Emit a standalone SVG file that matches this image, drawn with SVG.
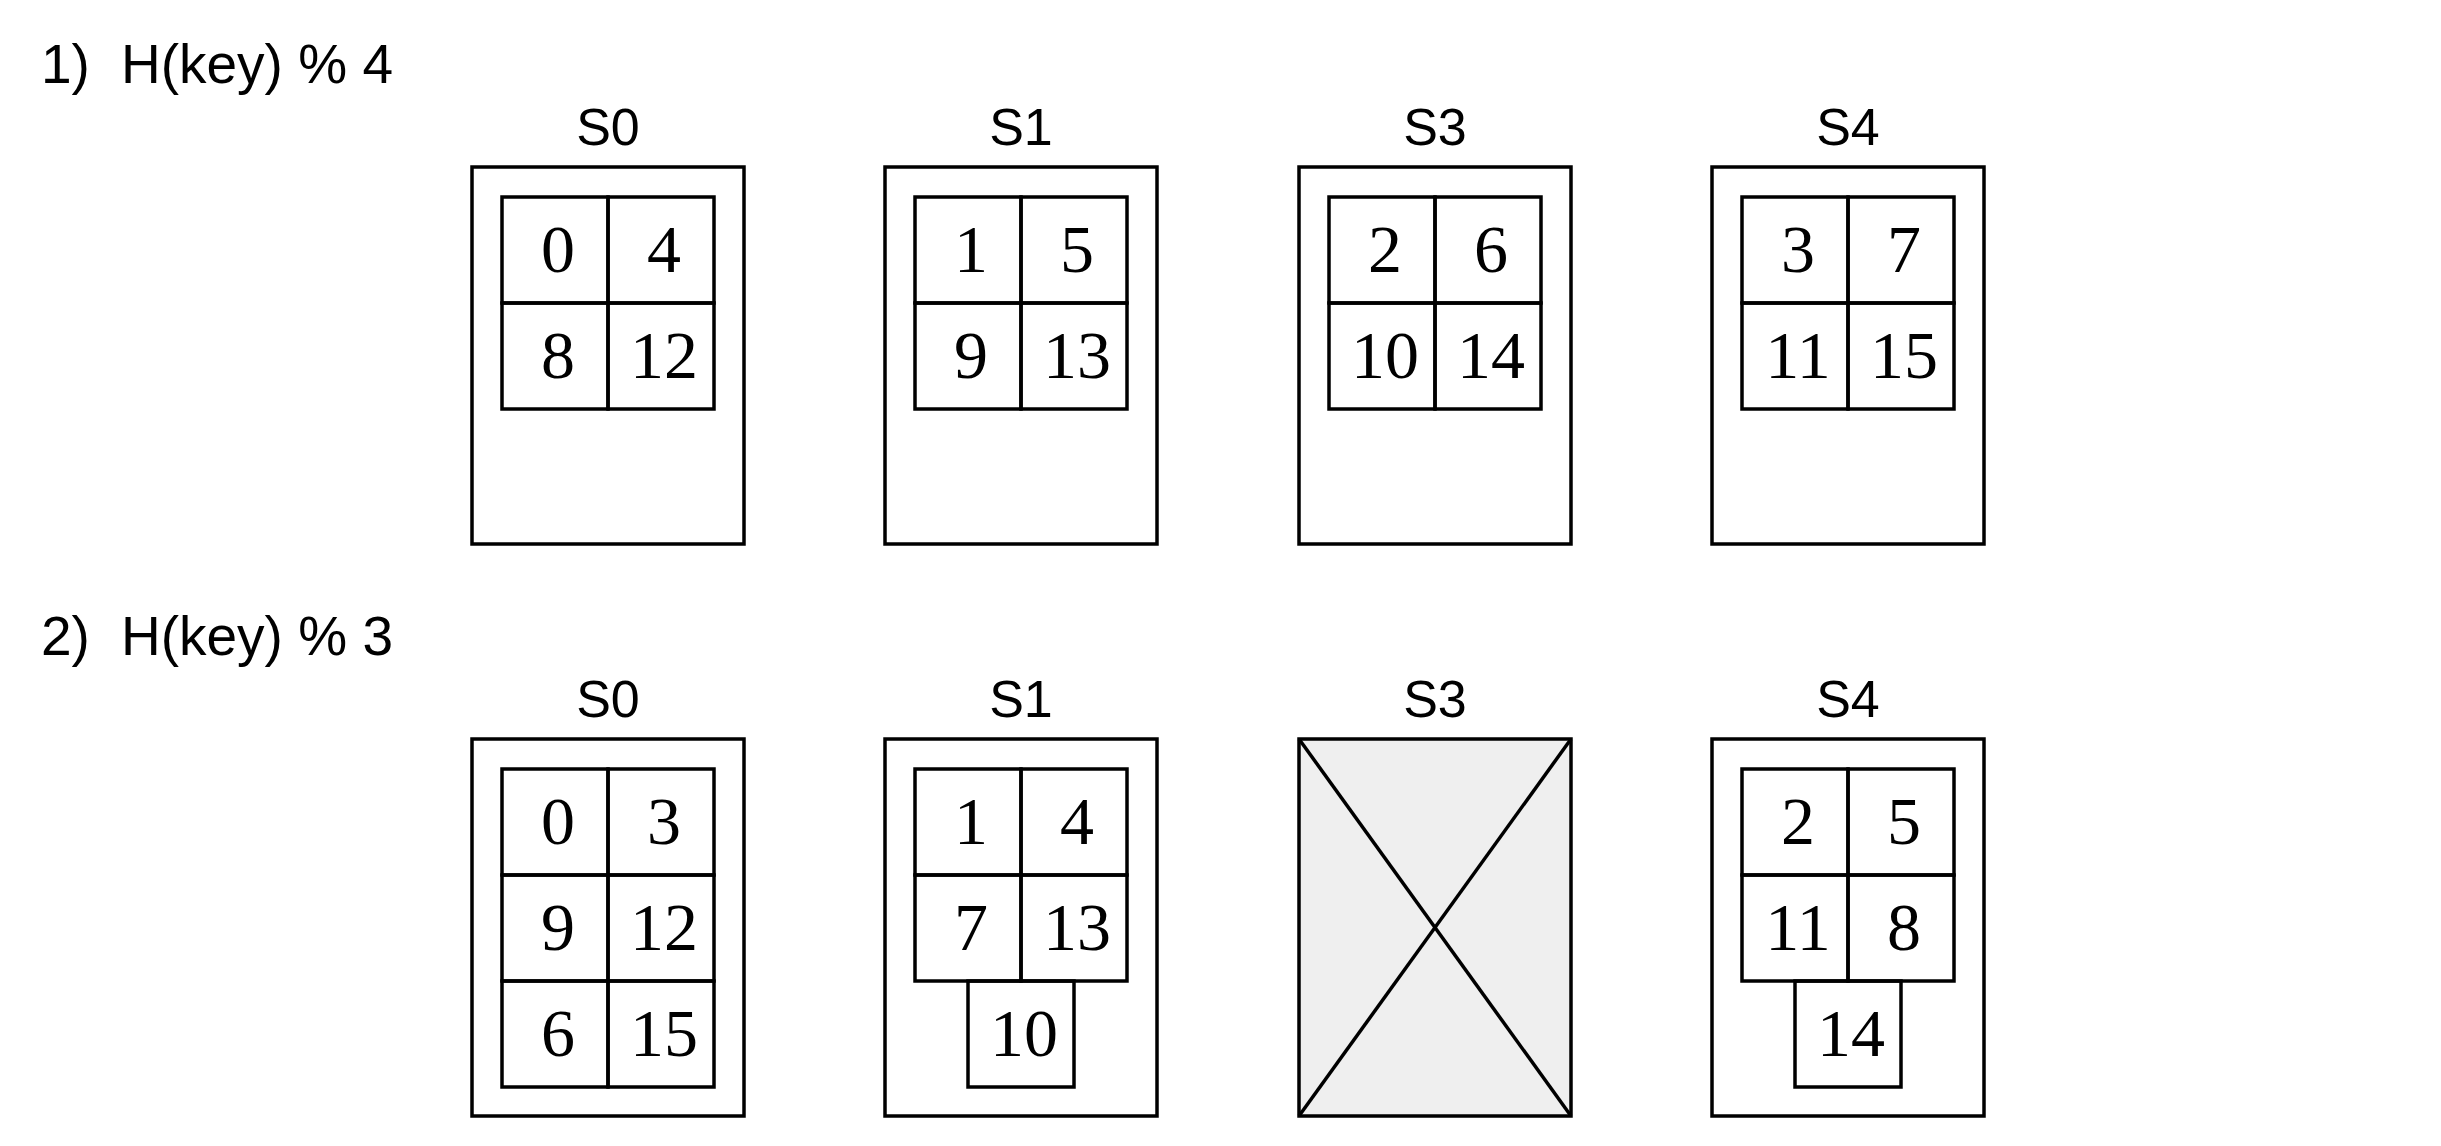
<svg xmlns="http://www.w3.org/2000/svg" width="2441" height="1146" viewBox="0 0 2441 1146">
<style>
.bg{fill:#ffffff}
.box{fill:#ffffff;stroke:#000;stroke-width:3.5}
.dead{fill:#efefef;stroke:#000;stroke-width:3.5}
.cell{fill:none;stroke:#000;stroke-width:3.5}
.x{stroke:#000;stroke-width:3.5}
.lbl{font-family:"Liberation Sans",Arial,sans-serif;font-size:52px;text-anchor:middle;fill:#000}
.ttl{font-family:"Liberation Sans",Arial,sans-serif;font-size:55px;fill:#000}
.num{font-family:"Liberation Serif","Times New Roman",serif;font-size:68px;text-anchor:middle;fill:#000}
</style>
<rect class="bg" x="0" y="0" width="2441" height="1146"/>

<g id="title1">
<text class="ttl" x="41" y="83">1)</text>
<text class="ttl" x="121" y="83">H(key) % 4</text>
</g>
<g id="title2">
<text class="ttl" x="41" y="655">2)</text>
<text class="ttl" x="121" y="655">H(key) % 3</text>
</g>

<!-- Row 1 -->
<g id="r1-S0">
<text class="lbl" x="608" y="145">S0</text>
<rect class="box" x="472" y="167" width="272" height="377"/>
<rect class="cell" x="502" y="197" width="106" height="106"/>
<rect class="cell" x="608" y="197" width="106" height="106"/>
<rect class="cell" x="502" y="303" width="106" height="106"/>
<rect class="cell" x="608" y="303" width="106" height="106"/>
<text class="num" x="558" y="272">0</text>
<text class="num" x="664" y="272">4</text>
<text class="num" x="558" y="378">8</text>
<text class="num" x="664" y="378">12</text>
</g>
<g id="r1-S1">
<text class="lbl" x="1021" y="145">S1</text>
<rect class="box" x="885" y="167" width="272" height="377"/>
<rect class="cell" x="915" y="197" width="106" height="106"/>
<rect class="cell" x="1021" y="197" width="106" height="106"/>
<rect class="cell" x="915" y="303" width="106" height="106"/>
<rect class="cell" x="1021" y="303" width="106" height="106"/>
<text class="num" x="971" y="272">1</text>
<text class="num" x="1077" y="272">5</text>
<text class="num" x="971" y="378">9</text>
<text class="num" x="1077" y="378">13</text>
</g>
<g id="r1-S3">
<text class="lbl" x="1435" y="145">S3</text>
<rect class="box" x="1299" y="167" width="272" height="377"/>
<rect class="cell" x="1329" y="197" width="106" height="106"/>
<rect class="cell" x="1435" y="197" width="106" height="106"/>
<rect class="cell" x="1329" y="303" width="106" height="106"/>
<rect class="cell" x="1435" y="303" width="106" height="106"/>
<text class="num" x="1385" y="272">2</text>
<text class="num" x="1491" y="272">6</text>
<text class="num" x="1385" y="378">10</text>
<text class="num" x="1491" y="378">14</text>
</g>
<g id="r1-S4">
<text class="lbl" x="1848" y="145">S4</text>
<rect class="box" x="1712" y="167" width="272" height="377"/>
<rect class="cell" x="1742" y="197" width="106" height="106"/>
<rect class="cell" x="1848" y="197" width="106" height="106"/>
<rect class="cell" x="1742" y="303" width="106" height="106"/>
<rect class="cell" x="1848" y="303" width="106" height="106"/>
<text class="num" x="1798" y="272">3</text>
<text class="num" x="1904" y="272">7</text>
<text class="num" x="1798" y="378">11</text>
<text class="num" x="1904" y="378">15</text>
</g>

<!-- Row 2 -->
<g id="r2-S0">
<text class="lbl" x="608" y="717">S0</text>
<rect class="box" x="472" y="739" width="272" height="377"/>
<rect class="cell" x="502" y="769" width="106" height="106"/>
<rect class="cell" x="608" y="769" width="106" height="106"/>
<rect class="cell" x="502" y="875" width="106" height="106"/>
<rect class="cell" x="608" y="875" width="106" height="106"/>
<rect class="cell" x="502" y="981" width="106" height="106"/>
<rect class="cell" x="608" y="981" width="106" height="106"/>
<text class="num" x="558" y="844">0</text>
<text class="num" x="664" y="844">3</text>
<text class="num" x="558" y="950">9</text>
<text class="num" x="664" y="950">12</text>
<text class="num" x="558" y="1056">6</text>
<text class="num" x="664" y="1056">15</text>
</g>
<g id="r2-S1">
<text class="lbl" x="1021" y="717">S1</text>
<rect class="box" x="885" y="739" width="272" height="377"/>
<rect class="cell" x="915" y="769" width="106" height="106"/>
<rect class="cell" x="1021" y="769" width="106" height="106"/>
<rect class="cell" x="915" y="875" width="106" height="106"/>
<rect class="cell" x="1021" y="875" width="106" height="106"/>
<rect class="cell" x="968" y="981" width="106" height="106"/>
<text class="num" x="971" y="844">1</text>
<text class="num" x="1077" y="844">4</text>
<text class="num" x="971" y="950">7</text>
<text class="num" x="1077" y="950">13</text>
<text class="num" x="1024" y="1056">10</text>
</g>
<g id="r2-S3">
<text class="lbl" x="1435" y="717">S3</text>
<rect class="dead" x="1299" y="739" width="272" height="377"/>
<line class="x" x1="1299" y1="739" x2="1571" y2="1116"/>
<line class="x" x1="1571" y1="739" x2="1299" y2="1116"/>
</g>
<g id="r2-S4">
<text class="lbl" x="1848" y="717">S4</text>
<rect class="box" x="1712" y="739" width="272" height="377"/>
<rect class="cell" x="1742" y="769" width="106" height="106"/>
<rect class="cell" x="1848" y="769" width="106" height="106"/>
<rect class="cell" x="1742" y="875" width="106" height="106"/>
<rect class="cell" x="1848" y="875" width="106" height="106"/>
<rect class="cell" x="1795" y="981" width="106" height="106"/>
<text class="num" x="1798" y="844">2</text>
<text class="num" x="1904" y="844">5</text>
<text class="num" x="1798" y="950">11</text>
<text class="num" x="1904" y="950">8</text>
<text class="num" x="1851" y="1056">14</text>
</g>
</svg>
